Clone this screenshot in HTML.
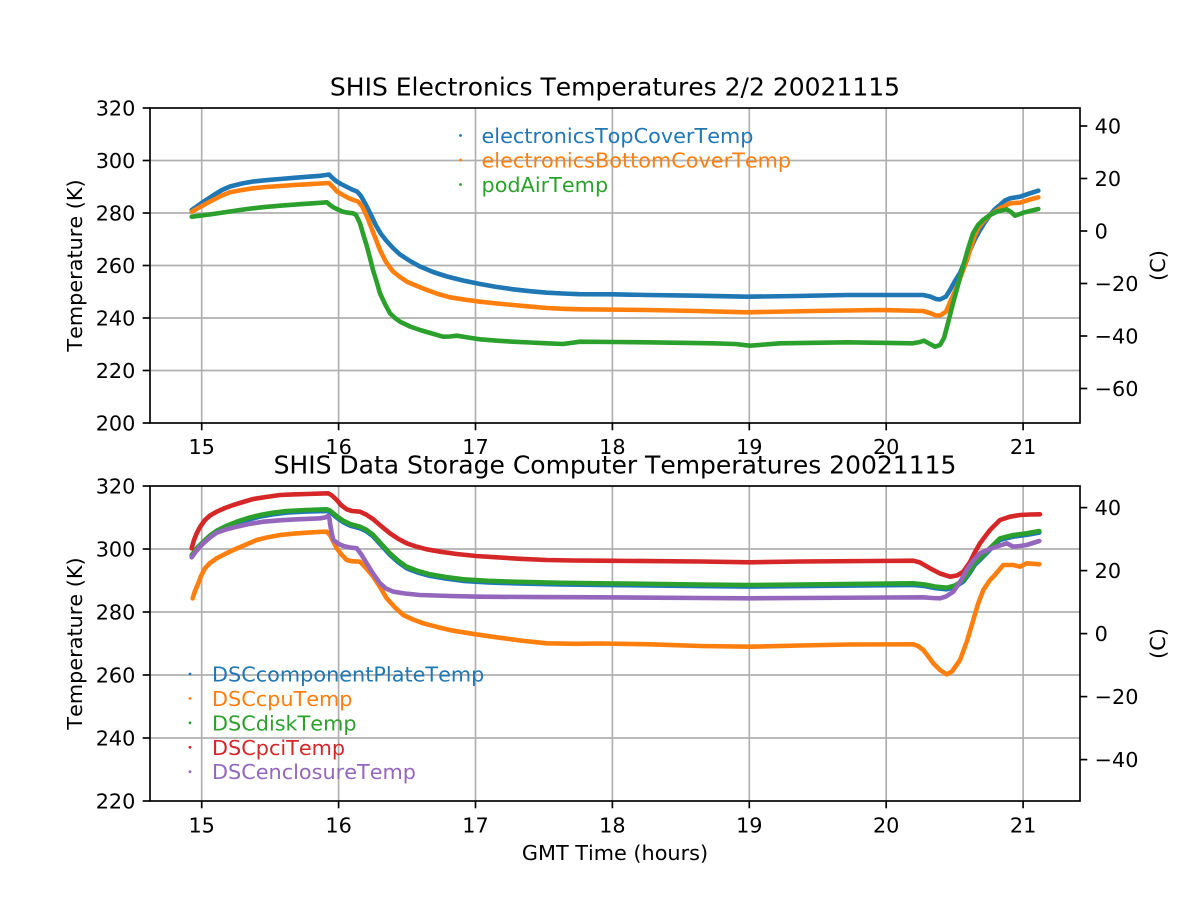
<!DOCTYPE html>
<html>
<head>
<meta charset="utf-8">
<style>
html,body{margin:0;padding:0;background:#fff;}
svg{display:block;}
text{font-family:"DejaVu Sans","Liberation Sans",sans-serif;font-kerning:none;}
</style>
</head>
<body>
<svg width="1200" height="900" viewBox="0 0 1200 900" xmlns="http://www.w3.org/2000/svg">
<rect width="1200" height="900" fill="#fff"/>

<!-- ============ TOP AXES ============ -->
<g stroke="#b0b0b0" stroke-width="1.67" fill="none">
  <line x1="201.7" y1="108" x2="201.7" y2="423"/>
  <line x1="338.6" y1="108" x2="338.6" y2="423"/>
  <line x1="475.5" y1="108" x2="475.5" y2="423"/>
  <line x1="612.4" y1="108" x2="612.4" y2="423"/>
  <line x1="749.3" y1="108" x2="749.3" y2="423"/>
  <line x1="886.2" y1="108" x2="886.2" y2="423"/>
  <line x1="1023.1" y1="108" x2="1023.1" y2="423"/>
  <line x1="150" y1="160.5" x2="1080" y2="160.5"/>
  <line x1="150" y1="213" x2="1080" y2="213"/>
  <line x1="150" y1="265.5" x2="1080" y2="265.5"/>
  <line x1="150" y1="318" x2="1080" y2="318"/>
  <line x1="150" y1="370.5" x2="1080" y2="370.5"/>
</g>

<g fill="none" stroke-width="4.6" stroke-linejoin="round" stroke-linecap="round">
<polyline stroke="#1f77b4" points="191.7,210 196,207 203,202 213,195.5 222,190 230,186.5 242,183.5 253,181.5 266,180.2 280,179 294,177.8 307,176.8 320,175.8 326,175 329,174.5 332,177.5 336,181 341,184 347,187 352,189.5 357,191.5 361,196 366,205 371,215 376,225.5 381,234 387,241.5 393,248 400,254.5 410,261 420,266.5 433,272 447,276.5 463,280.5 480,284 497,287 513,289.3 530,291.2 547,292.7 563,293.5 580,294.2 613,294.3 647,295 697,295.7 747,296.7 797,296 847,295 897,295 923,295 930,296.5 936,299 940,299.5 946,296.5 950,290 955,281 960,273 965,261 970,250 975,239 980,230 985,222 990,215 995,209 1000,205 1005,200.5 1010,198.3 1020,196.7 1030,193.3 1038.3,190.7"/>
<polyline stroke="#ff7f0e" points="191.7,211.7 200,207 213,200 222,195.5 230,192.3 242,190 253,188.3 266,187 280,186 294,185 307,184.3 320,183.5 329,183 333,187 337,191.5 342,194.5 347,197.3 352,199.5 358,201.5 362,206 367,216.7 373,232 380,250 386,262 393,271.5 400,277 407,281.7 417,286 427,290 438,294 450,297.3 465,299.7 480,301.7 497,303.5 513,305 530,306.6 547,308 563,308.8 580,309.3 647,310 697,311 747,312.3 813,311 880,310 923,311 930,313 936,315.5 940,315.5 946,311.7 951,300 957,286.7 962,273 967,260 971,247 975,235 979,227 983,221.7 990,215 1000,208.3 1010,203.3 1020,202.7 1030,199.5 1038.3,197.3"/>
<polyline stroke="#2ca02c" points="191.7,216.7 200,215.7 213,214 230,211.5 247,209 263,207.2 280,205.7 300,204.2 315,203.2 327,202.3 330,205 334,207.7 339,210 343,211.7 348,212.7 353,213.3 356,215 360,223.3 364,237 367,246.7 370,258 373,270 377,283 380,293.3 385,304 390,313.3 395,318 400,321.7 410,326.5 420,330 432,333.5 443,336.7 450,336.5 457,335.7 468,337.5 480,339.3 497,340.7 513,341.7 530,342.5 547,343.3 563,344 580,341.7 613,342 647,342.3 713,343.3 735,344 750,345.7 765,344.5 780,343.3 847,342.3 913,343.3 920,342 924,340.7 930,344 935,346.7 940,345 944,338 948,323 953,303.3 958,285 963,266.7 968,249 973,233.3 978,225 983,220 990,215 996.7,211.7 1006.7,209.3 1011,212 1015,215.7 1020,214 1023.3,212.7 1030,211 1038.3,209"/>
</g>

<!-- spines -->
<rect x="150" y="108" width="930" height="315" fill="none" stroke="#000" stroke-width="1.67"/>
<!-- ticks -->
<g stroke="#000" stroke-width="1.67">
  <line x1="201.7" y1="423" x2="201.7" y2="430.3"/>
  <line x1="338.6" y1="423" x2="338.6" y2="430.3"/>
  <line x1="475.5" y1="423" x2="475.5" y2="430.3"/>
  <line x1="612.4" y1="423" x2="612.4" y2="430.3"/>
  <line x1="749.3" y1="423" x2="749.3" y2="430.3"/>
  <line x1="886.2" y1="423" x2="886.2" y2="430.3"/>
  <line x1="1023.1" y1="423" x2="1023.1" y2="430.3"/>
  <line x1="142.7" y1="108" x2="150" y2="108"/>
  <line x1="142.7" y1="160.5" x2="150" y2="160.5"/>
  <line x1="142.7" y1="213" x2="150" y2="213"/>
  <line x1="142.7" y1="265.5" x2="150" y2="265.5"/>
  <line x1="142.7" y1="318" x2="150" y2="318"/>
  <line x1="142.7" y1="370.5" x2="150" y2="370.5"/>
  <line x1="142.7" y1="423" x2="150" y2="423"/>
  <line x1="1080" y1="126" x2="1087.3" y2="126"/>
  <line x1="1080" y1="178.5" x2="1087.3" y2="178.5"/>
  <line x1="1080" y1="231" x2="1087.3" y2="231"/>
  <line x1="1080" y1="283.5" x2="1087.3" y2="283.5"/>
  <line x1="1080" y1="336" x2="1087.3" y2="336"/>
  <line x1="1080" y1="388.5" x2="1087.3" y2="388.5"/>
</g>
<g font-size="20.8" fill="#000">
  <g text-anchor="middle">
    <text x="201.7" y="454">15</text>
    <text x="338.6" y="454">16</text>
    <text x="475.5" y="454">17</text>
    <text x="612.4" y="454">18</text>
    <text x="749.3" y="454">19</text>
    <text x="886.2" y="454">20</text>
    <text x="1023.1" y="454">21</text>
  </g>
  <g text-anchor="end">
    <text x="135.4" y="115.6">320</text>
    <text x="135.4" y="168.1">300</text>
    <text x="135.4" y="220.6">280</text>
    <text x="135.4" y="273.1">260</text>
    <text x="135.4" y="325.6">240</text>
    <text x="135.4" y="378.1">220</text>
    <text x="135.4" y="430.6">200</text>
  </g>
  <g text-anchor="start">
    <text x="1094.6" y="133.6">40</text>
    <text x="1094.6" y="186.1">20</text>
    <text x="1094.6" y="238.6">0</text>
    <text x="1094.6" y="291.1">−20</text>
    <text x="1094.6" y="343.6">−40</text>
    <text x="1094.6" y="396.1">−60</text>
  </g>
  <text transform="translate(82,265.5) rotate(-90)" text-anchor="middle">Temperature (K)</text>
  <text transform="translate(1165,265.5) rotate(-90)" text-anchor="middle">(C)</text>
</g>
<text x="615" y="95.5" font-size="25" text-anchor="middle" fill="#000">SHIS Electronics Temperatures 2/2 20021115</text>

<!-- top legend -->
<g font-size="20.8">
  <circle cx="460.5" cy="135.5" r="1.4" fill="#1f77b4"/>
  <circle cx="460.5" cy="160" r="1.4" fill="#ff7f0e"/>
  <circle cx="460.5" cy="184.5" r="1.4" fill="#2ca02c"/>
  <text x="481.5" y="143" fill="#1f77b4">electronicsTopCoverTemp</text>
  <text x="481.5" y="167.5" fill="#ff7f0e">electronicsBottomCoverTemp</text>
  <text x="481.5" y="192" fill="#2ca02c">podAirTemp</text>
</g>

<!-- ============ BOTTOM AXES ============ -->
<g stroke="#b0b0b0" stroke-width="1.67" fill="none">
  <line x1="201.7" y1="486" x2="201.7" y2="801"/>
  <line x1="338.6" y1="486" x2="338.6" y2="801"/>
  <line x1="475.5" y1="486" x2="475.5" y2="801"/>
  <line x1="612.4" y1="486" x2="612.4" y2="801"/>
  <line x1="749.3" y1="486" x2="749.3" y2="801"/>
  <line x1="886.2" y1="486" x2="886.2" y2="801"/>
  <line x1="1023.1" y1="486" x2="1023.1" y2="801"/>
  <line x1="150" y1="549" x2="1080" y2="549"/>
  <line x1="150" y1="612" x2="1080" y2="612"/>
  <line x1="150" y1="675" x2="1080" y2="675"/>
  <line x1="150" y1="738" x2="1080" y2="738"/>
</g>

<g fill="none" stroke-width="4.6" stroke-linejoin="round" stroke-linecap="round">
<polyline stroke="#1f77b4" transform="translate(0,1.6)" points="191.7,555 197,548 203.3,541.7 210,535.5 216.7,530.7 226,526 236.7,521.7 248,518 260,515 273,512.7 286.7,511 306,510 326.7,509.3 330,510.5 333.3,513.3 338,517 343.3,520.7 350,524 360,526.7 366,529.5 373.3,535 381,543.5 390,553.3 398,560.5 406.7,566.7 418,571 430,574.3 446,577 463.3,579.3 488,580.8 513.3,581.7 560,582.8 600,583.3 700,584.5 750,585 800,584.5 913.3,583.3 925,584.5 935,586.5 946.7,587.7 955,585.5 963.3,580 970,571 975,563 980,558.3 990,548 1000,538.3 1013.3,535 1026.7,533.3 1039.3,531"/>
<polyline stroke="#ff7f0e" points="192.7,598.3 195,591 198.3,583.3 201,576 205,568.3 210,563 216.7,558.3 225,554 233.3,550 245,545 256.7,540 268,537.2 280,535 293,533.7 306.7,532.7 318,532 326.7,531.7 330,535 333,541 336.7,548.3 341,554 346.7,560 352,561.2 360,561.7 366,568 373.3,576.7 380,587 386.7,598.3 395,607.5 403.3,615 413,619.5 423.3,623.3 438,627.2 453.3,630.7 475,634.2 496.7,637.3 520,640.5 546.7,643.3 575,643.8 600,643.5 650,644.3 700,646 750,646.7 800,645.5 850,644.5 913.3,644.3 918,646 923.3,650 928,656 933.3,663.3 940,670 946.7,674.3 952,671.5 960,660 967,641 973.3,620 978,604 983.3,590 990,580 993.3,576.7 1003.3,565 1013.3,565 1020,566.7 1026.7,563.3 1039.3,564.3"/>
<polyline stroke="#2ca02c" points="191.7,555 197,548 203.3,541.7 210,535.5 216.7,530.7 226,526 236.7,521.7 248,518 260,515 273,512.7 286.7,511 306,510 326.7,509.3 330,510.5 333.3,513.3 338,517 343.3,520.7 350,524 360,526.7 366,529.5 373.3,535 381,543.5 390,553.3 398,560.5 406.7,566.7 418,571 430,574.3 446,577 463.3,579.3 488,580.8 513.3,581.7 560,582.8 600,583.3 700,584.5 750,585 800,584.5 913.3,583.3 925,584.5 935,586.5 946.7,587.7 955,585.5 963.3,580 970,571 975,563 980,558.3 990,548 1000,538.3 1013.3,535 1026.7,533.3 1039.3,531"/>
<polyline stroke="#d62728" points="191.7,548.3 194,540 196.7,533.3 200,527 205,520 210,515.5 216.7,511.7 225,508 233.3,505 243,502 253.3,499 266,497 280,495 293,494.4 306.7,494 320,493.6 328.3,493.3 332,495.5 336.7,500 341,505 346.7,509.3 352,511 360,511.7 366,514.5 373.3,519.3 381,526 390,533.3 398,538.7 406.7,543.3 416,546.5 426.7,549.3 441,551.8 456.7,554 476,556 496.7,557.3 520,558.8 546.7,560 573,560.5 600,560.7 700,561.5 750,562.3 800,561.5 913.3,560.7 920,562.5 930,568.3 940,573.5 950,576.7 957,575.5 963.3,571.7 970,562 975,552 980,543.3 990,530 1000,520 1010,516.7 1020,515 1030,514.5 1040,514.3"/>
<polyline stroke="#9467bd" points="191.7,557.3 197,550 203.3,543.3 210,537.5 216.7,532.7 226,529.5 236.7,526.7 250,523.8 263.3,521.7 280,520.3 296.7,519.3 310,518.8 320,518.3 325,517.5 328.3,516 329.5,519 330,523.3 331.5,532 333.3,540 338,543.5 343.3,546 350,547.5 356.7,548.3 361,554 366.7,563.3 373,573.5 380,583.3 386,588.5 393.3,591.7 405,593.5 420,595 450,596 480,596.7 540,597.1 600,597.3 700,598 750,598.3 800,598 923.3,597.3 932,598 940,598.3 946,596.5 953.3,591.7 960,582 966.7,570 973,561 980,553.3 990,549 1000,545.5 1006.7,543.3 1010,545 1013.3,546.7 1020,546 1026.7,545 1039.3,541"/>
</g>

<rect x="150" y="486" width="930" height="315" fill="none" stroke="#000" stroke-width="1.67"/>
<g stroke="#000" stroke-width="1.67">
  <line x1="201.7" y1="801" x2="201.7" y2="808.3"/>
  <line x1="338.6" y1="801" x2="338.6" y2="808.3"/>
  <line x1="475.5" y1="801" x2="475.5" y2="808.3"/>
  <line x1="612.4" y1="801" x2="612.4" y2="808.3"/>
  <line x1="749.3" y1="801" x2="749.3" y2="808.3"/>
  <line x1="886.2" y1="801" x2="886.2" y2="808.3"/>
  <line x1="1023.1" y1="801" x2="1023.1" y2="808.3"/>
  <line x1="142.7" y1="486" x2="150" y2="486"/>
  <line x1="142.7" y1="549" x2="150" y2="549"/>
  <line x1="142.7" y1="612" x2="150" y2="612"/>
  <line x1="142.7" y1="675" x2="150" y2="675"/>
  <line x1="142.7" y1="738" x2="150" y2="738"/>
  <line x1="142.7" y1="801" x2="150" y2="801"/>
  <line x1="1080" y1="507.6" x2="1087.3" y2="507.6"/>
  <line x1="1080" y1="570.6" x2="1087.3" y2="570.6"/>
  <line x1="1080" y1="633.6" x2="1087.3" y2="633.6"/>
  <line x1="1080" y1="696.6" x2="1087.3" y2="696.6"/>
  <line x1="1080" y1="759.6" x2="1087.3" y2="759.6"/>
</g>
<g font-size="20.8" fill="#000">
  <g text-anchor="middle">
    <text x="201.7" y="832.5">15</text>
    <text x="338.6" y="832.5">16</text>
    <text x="475.5" y="832.5">17</text>
    <text x="612.4" y="832.5">18</text>
    <text x="749.3" y="832.5">19</text>
    <text x="886.2" y="832.5">20</text>
    <text x="1023.1" y="832.5">21</text>
  </g>
  <g text-anchor="end">
    <text x="135.4" y="493.6">320</text>
    <text x="135.4" y="556.6">300</text>
    <text x="135.4" y="619.6">280</text>
    <text x="135.4" y="682.6">260</text>
    <text x="135.4" y="745.6">240</text>
    <text x="135.4" y="808.6">220</text>
  </g>
  <g text-anchor="start">
    <text x="1094.6" y="515.2">40</text>
    <text x="1094.6" y="578.2">20</text>
    <text x="1094.6" y="641.2">0</text>
    <text x="1094.6" y="704.2">−20</text>
    <text x="1094.6" y="767.2">−40</text>
  </g>
  <text transform="translate(82,643.5) rotate(-90)" text-anchor="middle">Temperature (K)</text>
  <text transform="translate(1165,643.5) rotate(-90)" text-anchor="middle">(C)</text>
  <text x="615" y="860" text-anchor="middle">GMT Time (hours)</text>
</g>
<text x="615" y="473.5" font-size="25" text-anchor="middle" fill="#000">SHIS Data Storage Computer Temperatures 20021115</text>

<!-- bottom legend -->
<g font-size="20.8">
  <circle cx="190" cy="674" r="1.4" fill="#1f77b4"/>
  <circle cx="190" cy="698.5" r="1.4" fill="#ff7f0e"/>
  <circle cx="190" cy="722.8" r="1.4" fill="#2ca02c"/>
  <circle cx="190" cy="747.3" r="1.4" fill="#d62728"/>
  <circle cx="190" cy="771.7" r="1.4" fill="#9467bd"/>
  <text x="212" y="681.5" fill="#1f77b4">DSCcomponentPlateTemp</text>
  <text x="212" y="706" fill="#ff7f0e">DSCcpuTemp</text>
  <text x="212" y="730.3" fill="#2ca02c">DSCdiskTemp</text>
  <text x="212" y="754.8" fill="#d62728">DSCpciTemp</text>
  <text x="212" y="779.2" fill="#9467bd">DSCenclosureTemp</text>
</g>
</svg>
</body>
</html>
